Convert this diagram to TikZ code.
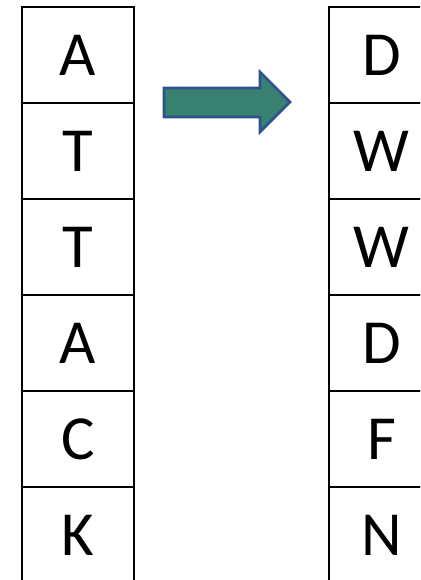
\documentclass[tikz,border=0pt]{standalone}
\usepackage{fontspec}
\setmainfont{Carlito}
\definecolor{arrowfill}{RGB}{56,128,112}
\definecolor{arrowline}{RGB}{47,82,143}
\begin{document}
\begin{tikzpicture}[x=1bp,y=-1bp,
  cell/.style={draw=black, line width=2bp, minimum width=112bp, minimum height=96bp,
    inner sep=0pt, font=\fontsize{63}{63}\selectfont, anchor=north west},
  bigarrow/.style={fill=arrowfill, draw=arrowline, line width=2.6bp, line join=miter}]
\useasboundingbox (0,0) rectangle (420,580);
\clip (0,0) rectangle (420,580);
\foreach \t [count=\i from 0] in {A,T,T,A,C,K} {
  \node[cell] (l\i) at (21,{6+96*\i}) {\t};
}
\foreach \t [count=\i from 0] in {D,W,W,D,F,N} {
  \node[cell, minimum width=105bp] (r\i) at (328,{6+96*\i}) {\t};
}
\draw[bigarrow] (164,88) -- (260,88) -- (260,72) -- (290,102) -- (260,132) -- (260,117) -- (164,117) -- cycle;
\end{tikzpicture}
\end{document}
